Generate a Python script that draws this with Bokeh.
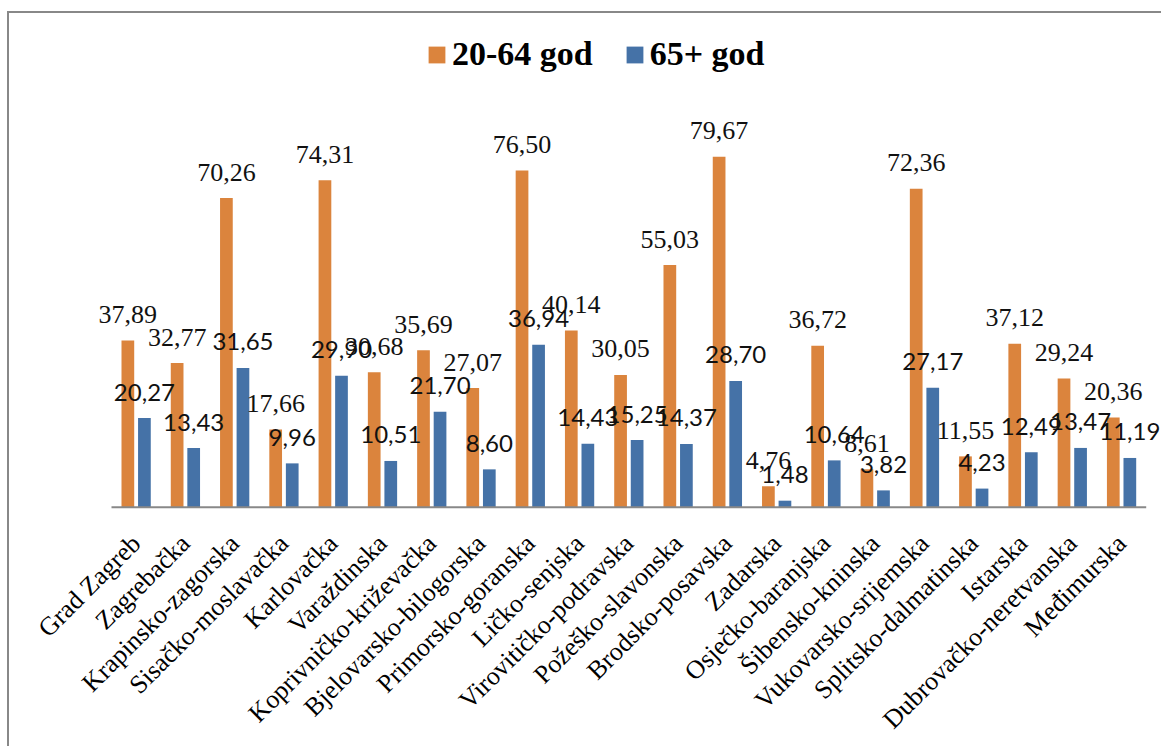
from bokeh.plotting import figure
from bokeh.models import ColumnDataSource, Range1d, Legend, LegendItem, FixedTicker
from bokeh.transform import dodge
from bokeh.core.properties import value
from bokeh.embed import file_html
from bokeh.resources import INLINE

counties = ["Grad Zagreb", "Zagrebačka", "Krapinsko-zagorska", "Sisačko-moslavačka",
            "Karlovačka", "Varaždinska", "Koprivničko-križevačka", "Bjelovarsko-bilogorska",
            "Primorsko-goranska", "Ličko-senjska", "Virovitičko-podravska", "Požeško-slavonska",
            "Brodsko-posavska", "Zadarska", "Osječko-baranjska", "Šibensko-kninska",
            "Vukovarsko-srijemska", "Splitsko-dalmatinska", "Istarska",
            "Dubrovačko-neretvanska", "Međimurska"]
age_20_64 = [37.89, 32.77, 70.26, 17.66, 74.31, 30.68, 35.69, 27.07, 76.50, 40.14, 30.05,
             55.03, 79.67, 4.76, 36.72, 8.61, 72.36, 11.55, 37.12, 29.24, 20.36]
age_65 = [20.27, 13.43, 31.65, 9.96, 29.90, 10.51, 21.70, 8.60, 36.94, 14.43, 15.25,
          14.37, 28.70, 1.48, 10.64, 3.82, 27.17, 4.23, 12.49, 13.47, 11.19]
series_names = ["20-64 god", "65+ god"]

ORANGE = "#DB843D"
BLUE = "#4572A7"


def fmt(v):
    return f"{v:.2f}".replace(".", ",")


n = len(counties)
idx = list(range(n))
src = ColumnDataSource(dict(
    idx=idx,
    a=age_20_64,
    b=age_65,
    alab=[fmt(v) for v in age_20_64],
    blab=[fmt(v) for v in age_65],
))

# layout (pixels)
W, H = 1161, 746
PX_PER_UNIT = 4.40        # vertical scale
BASE_Y = 506.7            # pixel row of the value 0
SLOTS_LEFT, SLOTS_RIGHT = 111.0, 1145.7   # horizontal extent of the category slots
slot = (SLOTS_RIGHT - SLOTS_LEFT) / n

p = figure(x_range=Range1d(-0.5 - SLOTS_LEFT / slot, n - 0.5 + (W - SLOTS_RIGHT) / slot),
           y_range=Range1d(-(H - BASE_Y) / PX_PER_UNIT, BASE_Y / PX_PER_UNIT),
           width=W, height=H, output_backend="svg", toolbar_location=None,
           min_border_left=0, min_border_right=0, min_border_top=0, min_border_bottom=0)

# outer chart border (top and left edges visible in the window)
p.stylesheets = [":host::after { content: ''; position: absolute; left: 7px; top: 11px; "
                 "right: 0; bottom: 0; border-top: 2px solid #888888; "
                 "border-left: 2px solid #888888; pointer-events: none; }"]

OFF = 0.168
BW = 0.258
r1 = p.vbar(x=dodge("idx", -OFF), top="a", width=BW, source=src,
            fill_color=ORANGE, line_color=None)
r2 = p.vbar(x=dodge("idx", OFF), top="b", width=BW, source=src,
            fill_color=BLUE, line_color=None)

# category axis baseline, spanning the category slots
base = ColumnDataSource(dict(x0=[idx[0]], x1=[idx[-1]], y=[0]))
p.segment(x0=dodge("x0", -0.5), x1=dodge("x1", 0.5), y0="y", y1="y", source=base,
          line_color="#888888", line_width=2)

p.text(x=dodge("idx", -OFF), y="a", text="alab", source=src,
       text_align="center", text_baseline="middle", y_offset=-26,
       text_font=value("Liberation Serif"), text_font_size="26px", text_color="#111111")
p.text(x=dodge("idx", OFF), y="b", text="blab", source=src,
       text_align="center", text_baseline="middle", y_offset=-26,
       text_font=value("Lato"), text_font_size="24px", text_color="#111111")

legend = Legend(items=[LegendItem(label=series_names[0], renderers=[r1]),
                       LegendItem(label=series_names[1], renderers=[r2])],
                orientation="horizontal", location=(426, 673),
                label_text_font="Liberation Serif", label_text_font_size="34px",
                label_text_font_style="bold", label_text_color="#000000",
                glyph_width=21, glyph_height=21, label_standoff=5, spacing=31,
                padding=0, margin=0, border_line_color=None, background_fill_alpha=0)
p.add_layout(legend)

p.xaxis.fixed_location = 0
p.xaxis.ticker = FixedTicker(ticks=idx)
p.xaxis.major_label_overrides = {i: name for i, name in zip(idx, counties)}
p.xaxis.axis_line_color = None
p.xaxis.major_tick_line_color = None
p.xaxis.minor_tick_line_color = None
p.xaxis.major_tick_out = 0
p.xaxis.major_tick_in = 0
p.xaxis.major_label_orientation = 0.785398
p.xaxis.major_label_standoff = 32
p.xaxis.major_label_text_font = "Liberation Serif"
p.xaxis.major_label_text_font_size = "26px"
p.xaxis.major_label_text_color = "#000000"
p.yaxis.visible = False
p.xgrid.visible = False
p.ygrid.visible = False
p.outline_line_color = None
p.background_fill_color = "white"
p.border_fill_color = "white"

open("out.html", "w").write(file_html(p, INLINE))
